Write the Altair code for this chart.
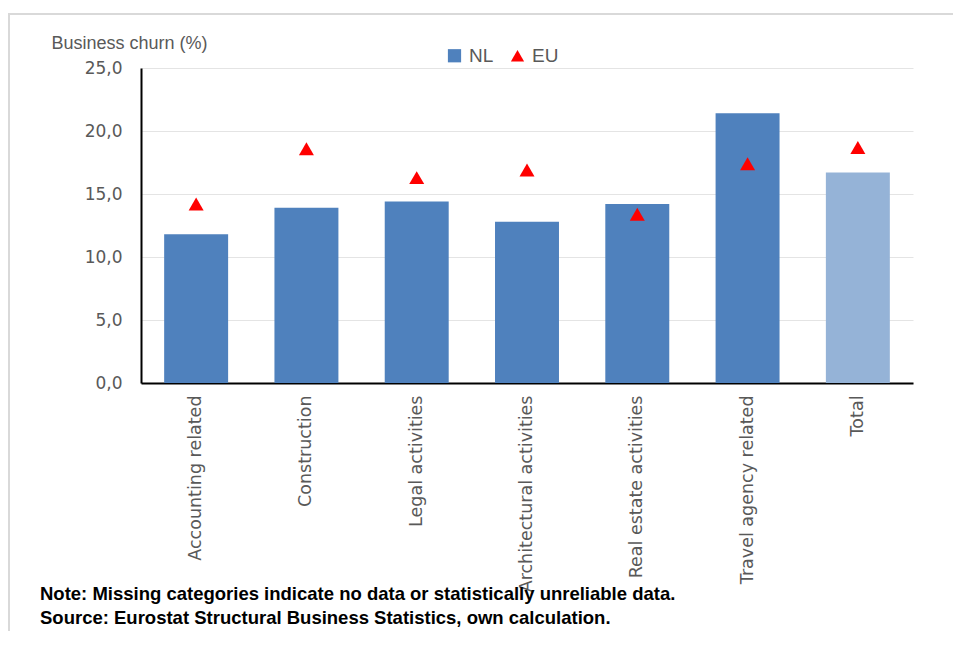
import altair as alt
import pandas as pd

categories = ["Accounting related", "Construction", "Legal activities",
              "Architectural activities", "Real estate activities",
              "Travel agency related", "Total"]
nl_values = [11.8, 13.9, 14.4, 12.8, 14.2, 21.4, 16.7]
eu_values = [14.2, 18.6, 16.3, 16.9, 13.4, 17.4, 18.7]
y_ticks = [0, 5, 10, 15, 20, 25]
series_names = ["NL", "EU"]
note_lines = ["Note: Missing categories indicate no data or statistically unreliable data.",
              "Source: Eurostat Structural Business Statistics, own calculation."]

BLUE = "#4F81BD"
LIGHT = "#95B3D7"
RED = "#FF0000"
GREY = "#595959"

nl_df = pd.DataFrame({"category": categories, "value": nl_values, "series": "NL"})
eu_df = pd.DataFrame({"category": categories, "value": eu_values, "series": "EU"})

x_enc = alt.X("category:N", sort=categories,
              scale=alt.Scale(paddingInner=0.42, paddingOuter=0.21),
              axis=alt.Axis(title=None, labelAngle=-90, labelAlign="right",
                            labelBaseline="middle", labelPadding=12, ticks=False,
                            domainColor="black", domainWidth=2,
                            labelFont="DejaVu Sans", labelFontSize=17.5,
                            labelColor=GREY, labelLimit=0))

y_enc = alt.Y("value:Q", scale=alt.Scale(domain=[0, 25], nice=False),
              axis=alt.Axis(values=y_ticks,
                            labelExpr="replace(format(datum.value, '.1f'), '.', ',')",
                            title="Business churn (%)", titleAngle=0,
                            titleAlign="left", titleBaseline="alphabetic",
                            titleX=-90, titleY=-20, titleFontWeight="normal",
                            titleFont="Liberation Sans", titleFontSize=18,
                            titleColor=GREY, ticks=False, labelPadding=19,
                            labelFont="DejaVu Sans", labelFontSize=17,
                            labelColor=GREY, gridColor="#e4e4e4",
                            domainColor="black", domainWidth=2))

bars = alt.Chart(nl_df).mark_bar().encode(
    x=x_enc,
    y=y_enc,
    color=alt.condition(alt.datum.category == "Total", alt.value(LIGHT), alt.value(BLUE)),
)

legend_cfg = dict(title=None, orient="none", legendX=304, legendY=-22,
                  direction="horizontal", padding=0,
                  symbolSize=175, symbolStrokeWidth=0,
                  labelFont="Liberation Sans", labelFontSize=19,
                  labelColor=GREY, labelOffset=5, columnPadding=14)

points = alt.Chart(eu_df).mark_point(filled=True, size=225, opacity=1).encode(
    x=alt.X("category:N", sort=categories),
    y=alt.Y("value:Q"),
    color=alt.Color("series:N", scale=alt.Scale(domain=series_names, range=[BLUE, RED]),
                    legend=alt.Legend(**legend_cfg)),
    shape=alt.Shape("series:N", scale=alt.Scale(domain=series_names,
                                                range=["square", "triangle-up"]),
                    legend=alt.Legend(**legend_cfg)),
)

one = alt.Data(values=[{}])
border_top = alt.Chart(one).mark_rule(color="#d9d9d9", strokeWidth=2).encode(
    x=alt.value(-133), x2=alt.value(840), y=alt.value(-54))
border_left = alt.Chart(one).mark_rule(color="#d9d9d9", strokeWidth=2).encode(
    x=alt.value(-132), y=alt.value(-54), y2=alt.value(600))

note1 = alt.Chart(one).mark_text(text=note_lines[0], align="left", baseline="alphabetic",
                                 font="Liberation Sans", fontSize=18.5, fontWeight="bold",
                                 color="black").encode(x=alt.value(-101), y=alt.value(532))
note2 = alt.Chart(one).mark_text(text=note_lines[1], align="left", baseline="alphabetic",
                                 font="Liberation Sans", fontSize=18.5, fontWeight="bold",
                                 color="black").encode(x=alt.value(-101), y=alt.value(556))

chart = alt.layer(border_top, border_left, bars, points, note1, note2).properties(
    width=772, height=315,
    autosize=alt.AutoSizeParams(type="none"),
    padding={"left": 133, "top": 60, "right": 40, "bottom": 248},
).configure_view(stroke=None)

chart.save("out.html", embed_options={"renderer": "svg", "actions": False})
